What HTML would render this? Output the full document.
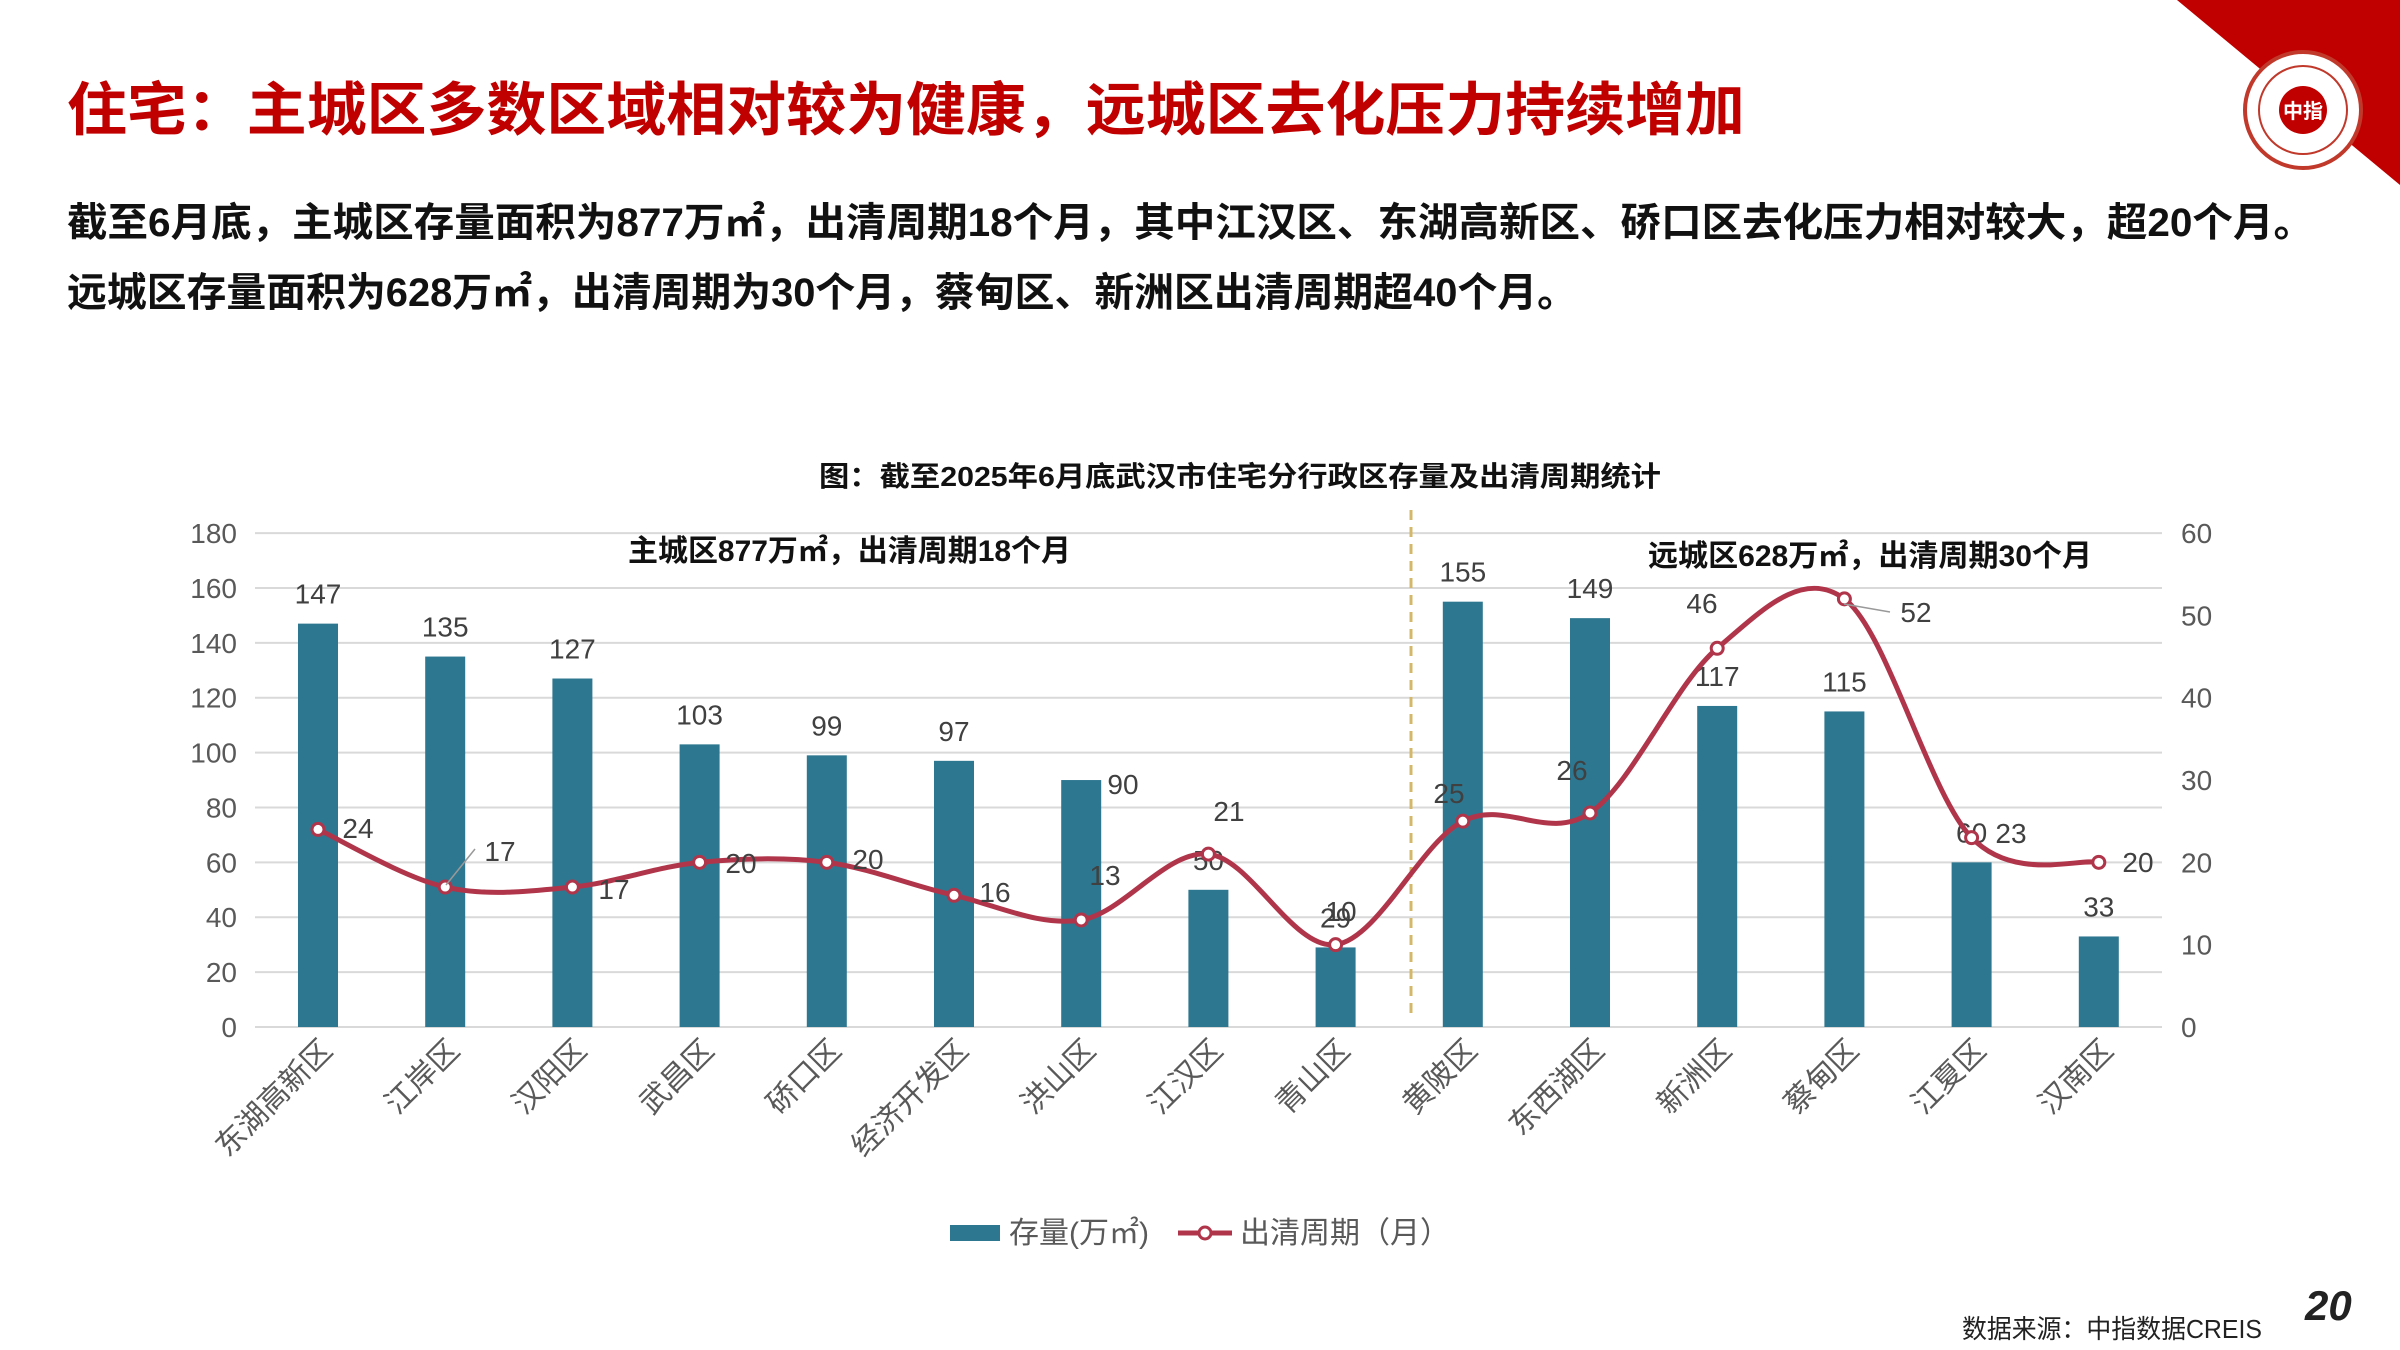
<!DOCTYPE html>
<html><head><meta charset="utf-8"><style>
html,body{margin:0;padding:0;background:#fff;width:2400px;height:1350px;overflow:hidden}
svg{display:block}
text{font-family:"Liberation Sans","Noto Sans CJK SC",sans-serif}
</style></head><body>
<svg id="s" width="2400" height="1350" viewBox="0 0 2400 1350" xmlns="http://www.w3.org/2000/svg">
<polygon points="2177,0 2400,0 2400,185" fill="#C00000"/>
<circle cx="2303" cy="110" r="58" fill="#fff" stroke="#C0392B" stroke-width="4"/>
<circle cx="2303" cy="110" r="44" fill="none" stroke="#C0392B" stroke-width="2"/>
<circle cx="2303" cy="110" r="24" fill="#C00000"/>
<text x="2303" y="118" font-size="20" fill="#fff" text-anchor="middle" font-weight="bold">中指</text>
<text x="67" y="130" font-size="58" font-weight="bold" fill="#C00000" textLength="1678" lengthAdjust="spacingAndGlyphs">住宅：主城区多数区域相对较为健康，远城区去化压力持续增加</text>
<text x="67" y="236" font-size="40" font-weight="bold" fill="#111" textLength="2247" lengthAdjust="spacingAndGlyphs">截至6月底，主城区存量面积为877万㎡，出清周期18个月，其中江汉区、东湖高新区、硚口区去化压力相对较大，超20个月。</text>
<text x="67" y="306" font-size="40" font-weight="bold" fill="#111" textLength="1510" lengthAdjust="spacingAndGlyphs">远城区存量面积为628万㎡，出清周期为30个月，蔡甸区、新洲区出清周期超40个月。</text>
<text x="819" y="486" font-size="28" font-weight="bold" fill="#111" textLength="842" lengthAdjust="spacingAndGlyphs">图：截至2025年6月底武汉市住宅分行政区存量及出清周期统计</text>
<text x="628" y="561" font-size="30" font-weight="bold" fill="#111" textLength="443" lengthAdjust="spacingAndGlyphs">主城区877万㎡，出清周期18个月</text>
<text x="1648" y="566" font-size="30" font-weight="bold" fill="#111" textLength="444" lengthAdjust="spacingAndGlyphs">远城区628万㎡，出清周期30个月</text>
<g id="chart"></g>
<rect x="950" y="1225" width="50" height="16" fill="#2E7790"/>
<text x="1009" y="1243" font-size="30" fill="#595959">存量(万㎡)</text>
<line x1="1178" y1="1233" x2="1232" y2="1233" stroke="#B0354A" stroke-width="5"/>
<circle cx="1205" cy="1233" r="6" fill="#fff" stroke="#B0354A" stroke-width="3"/>
<text x="1240" y="1243" font-size="30" fill="#595959">出清周期（月）</text>
<text x="1962" y="1338" font-size="26" fill="#222" textLength="300" lengthAdjust="spacingAndGlyphs">数据来源：中指数据CREIS</text>
<text x="2305" y="1320" font-size="42" font-weight="bold" font-style="italic" fill="#222">20</text>
</svg>
<script>
var g=document.getElementById('chart'),ns='http://www.w3.org/2000/svg',h='';
var bars=[147,135,127,103,99,97,90,50,29,155,149,117,115,60,33];
var line=[24,17,17,20,20,16,13,21,10,25,26,46,52,23,20];
var names=['东湖高新区','江岸区','汉阳区','武昌区','硚口区','经济开发区','洪山区','江汉区','青山区','黄陂区','东西湖区','新洲区','蔡甸区','江夏区','汉南区'];
function yL(v){return 1027-2.744*v}function yR(v){return 1027-8.233*v}function cx(i){return 318+127.2*i}
for(var k=0;k<=9;k++){var y=yL(k*20);h+='<line x1="255" x2="2162" y1="'+y+'" y2="'+y+'" stroke="#D9D9D9" stroke-width="2"/>';
h+='<text x="237" y="'+(y+10)+'" font-size="28" fill="#595959" text-anchor="end">'+(k*20)+'</text>';}
for(var k=0;k<=6;k++){var y=yR(k*10);h+='<text x="2181" y="'+(y+10)+'" font-size="28" fill="#595959">'+(k*10)+'</text>';}
h+='<line x1="1411" x2="1411" y1="510" y2="1015" stroke="#D4B86A" stroke-width="3" stroke-dasharray="10,7"/>';
for(var i=0;i<15;i++){var t=yL(bars[i]);h+='<rect x="'+(cx(i)-20)+'" y="'+t+'" width="40" height="'+(1027-t)+'" fill="#2E7790"/>';
if(i==6)h+='<text x="1123" y="794" font-size="28" fill="#404040" text-anchor="middle">90</text>';
else h+='<text x="'+cx(i)+'" y="'+(t-20)+'" font-size="28" fill="#404040" text-anchor="middle">'+bars[i]+'</text>';
h+='<text transform="translate('+(cx(i)+16)+',1052) rotate(-45)" font-size="30" fill="#595959" text-anchor="end">'+names[i]+'</text>';}
var P=line.map(function(v,i){return [cx(i),yR(v)]});
var d='M'+P[0][0]+','+P[0][1];
for(var i=0;i<14;i++){var p0=P[Math.max(i-1,0)],p1=P[i],p2=P[i+1],p3=P[Math.min(i+2,14)];
d+=' C'+(p1[0]+(p2[0]-p0[0])/6)+','+(p1[1]+(p2[1]-p0[1])/6)+' '+(p2[0]-(p3[0]-p1[0])/6)+','+(p2[1]-(p3[1]-p1[1])/6)+' '+p2[0]+','+p2[1];}
h+='<path d="'+d+'" fill="none" stroke="#B0354A" stroke-width="5"/>';
P.forEach(function(p){h+='<circle cx="'+p[0]+'" cy="'+p[1]+'" r="6" fill="#fff" stroke="#B0354A" stroke-width="3"/>'});
var L=[[358,828],[500,851],[614,889],[741,863],[868,859],[995,892],[1105,875],[1229,811],[1341,911],[1449,793],[1572,770],[1702,603],[1916,612],[2011,833],[2138,862]];
L.forEach(function(p,i){h+='<text x="'+p[0]+'" y="'+(p[1]+10)+'" font-size="28" fill="#404040" text-anchor="middle">'+line[i]+'</text>'});
h+='<line x1="446" y1="885" x2="475" y2="849" stroke="#999" stroke-width="1.5"/>';
h+='<line x1="1844" y1="604" x2="1890" y2="612" stroke="#999" stroke-width="1.5"/>';
g.innerHTML=h;
</script>
</body></html>
